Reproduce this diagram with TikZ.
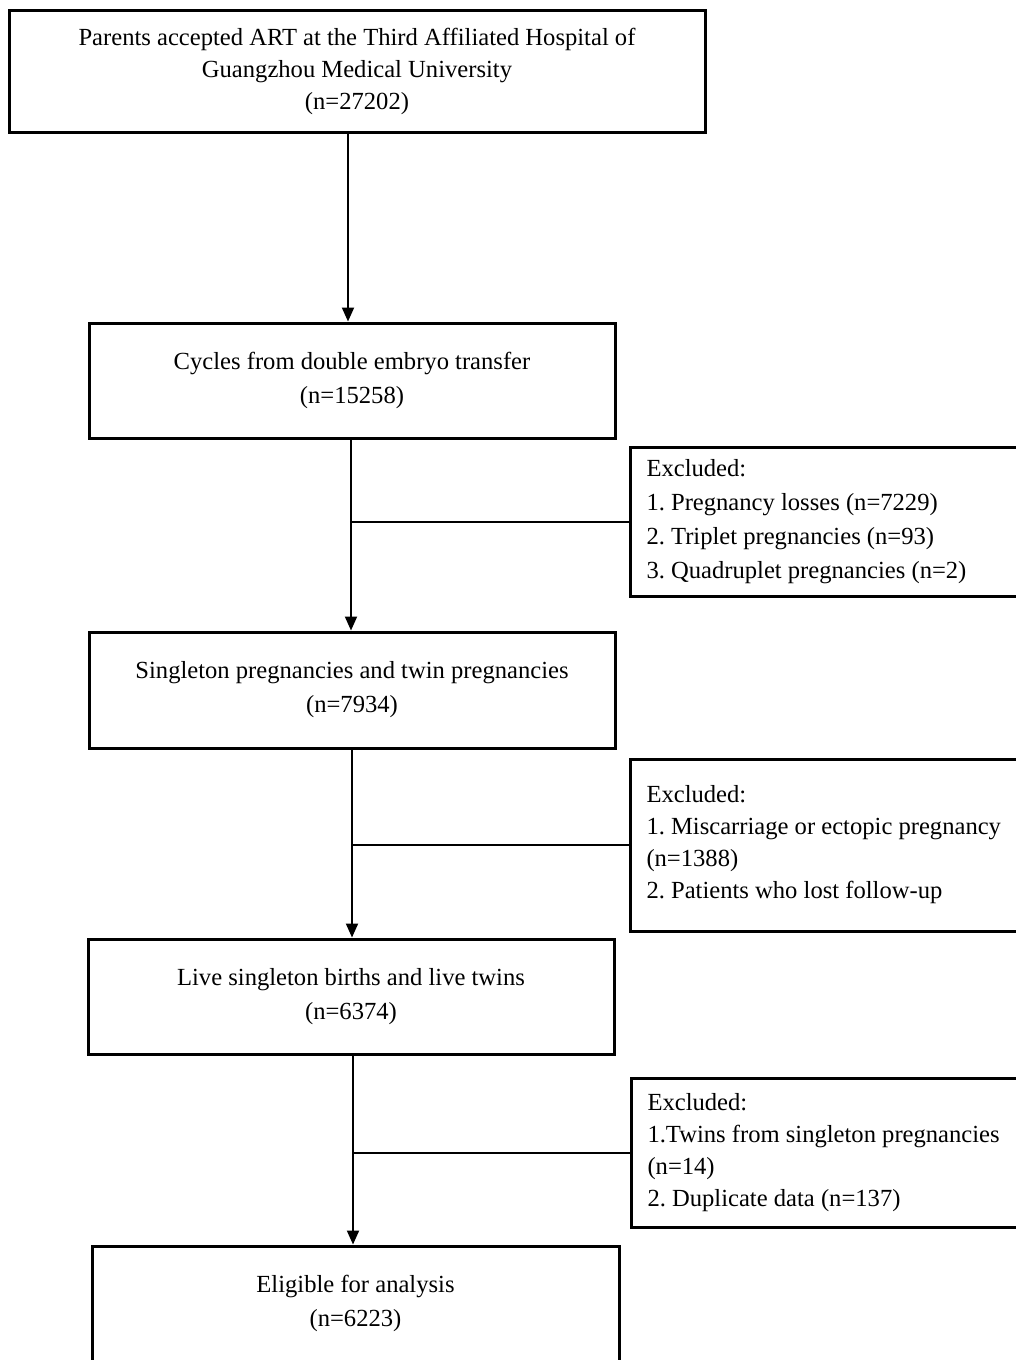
\documentclass[tikz,border=0pt]{standalone}
\usepackage{fontspec}
\setmainfont{Liberation Serif}
\usetikzlibrary{arrows.meta}
\frenchspacing

\begin{document}
\begin{tikzpicture}[x=0.5pt, y=-0.5pt,
	font=\fontsize{12.3}{17}\selectfont,
	stepbox/.style={draw, line width=1.5pt, align=center, minimum width=263pt, minimum height=57.5pt},
	exbox/.style={draw, line width=1.5pt, anchor=west, align=flush left, text width=194pt, inner xsep=8pt, minimum height=74.5pt},
	flow/.style={line width=1pt, -{Triangle[width=6pt,length=7pt]}},
	link/.style={line width=1pt}]

		\clip (0,0) rectangle (1016,1360);

		% Main boxes of the flow
		\node[stepbox, minimum width=348pt, minimum height=61pt, font=\fontsize{12.3}{16}\selectfont] (top) at (357,71)
			{Parents accepted ART at the Third Affiliated Hospital of\\ Guangzhou Medical University\\ (n=27202)};
		\node[stepbox] (cyc) at (352,380.5) {Cycles from double embryo transfer\\ (n=15258)};
		\node[stepbox, minimum height=58pt] (preg) at (352,690) {Singleton pregnancies and twin pregnancies\\ (n=7934)};
		\node[stepbox] (live) at (351,996.5) {Live singleton births and live twins\\ (n=6374)};
		\node[stepbox, minimum width=263.5pt] (elig) at (355.5,1303.5) {Eligible for analysis\\ (n=6223)};

		% Boxes of the excluded cases
		\node[exbox] (ex1) at (629,521.5)
			{Excluded:\\ 1. Pregnancy losses (n=7229)\\ 2. Triplet pregnancies (n=93)\\ 3. Quadruplet pregnancies (n=2)};
		\node[exbox, minimum height=86pt, font=\fontsize{12.3}{16}\selectfont] (ex2) at (629,845)
			{Excluded:\\ 1. Miscarriage or ectopic pregnancy\\ (n=1388)\\ 2. Patients who lost follow-up};
		\node[exbox, font=\fontsize{12.3}{16}\selectfont] (ex3) at (630,1152.5)
			{Excluded:\\ 1.Twins from singleton pregnancies\\ (n=14)\\ 2. Duplicate data (n=137)};

		% Draw the arrows between the boxes
		\coordinate (a1) at (348,0);
		\coordinate (a2) at (351,0);
		\coordinate (a3) at (352,0);
		\coordinate (a4) at (353,0);
		\draw[flow] (top.south -| a1) -- (cyc.north -| a1);
		\draw[flow] (cyc.south -| a2) -- (preg.north -| a2);
		\draw[flow] (preg.south -| a3) -- (live.north -| a3);
		\draw[flow] (live.south -| a4) -- (elig.north -| a4);

		% Draw the side lines to the excluded boxes
		\draw[link] (ex1.west) -- (ex1.west -| a2);
		\draw[link] (ex2.west) -- (ex2.west -| a3);
		\draw[link] (ex3.west) -- (ex3.west -| a4);

\end{tikzpicture}
\end{document}
